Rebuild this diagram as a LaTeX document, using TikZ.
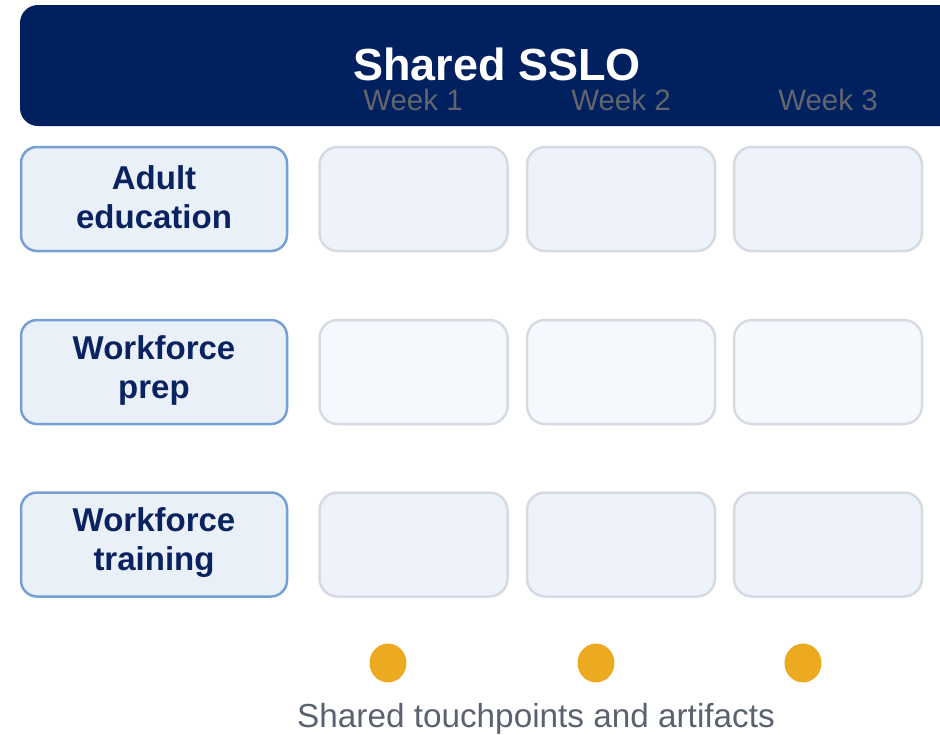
\documentclass[tikz,border=0pt]{standalone}
\usepackage{fontspec}
\setmainfont{Liberation Sans}
\definecolor{navy}{RGB}{0,32,96}
\definecolor{labeltext}{RGB}{10,34,96}
\definecolor{weekgray}{RGB}{98,102,108}
\definecolor{labelfill}{RGB}{233,240,248}
\definecolor{labelline}{RGB}{118,160,212}
\definecolor{cellfill}{RGB}{238,243,250}
\definecolor{cellfilllight}{RGB}{245,249,253}
\definecolor{cellline}{RGB}{214,219,227}
\definecolor{dotgold}{RGB}{235,170,32}
\definecolor{captiongray}{RGB}{90,98,112}
\tikzset{
  rowlabel/.style={draw=labelline, fill=labelfill, line width=2.5pt,
    rounded corners=16pt, minimum width=266pt, minimum height=104pt,
    align=center, text=labeltext, font=\fontsize{33}{39}\selectfont\bfseries,
    inner sep=0pt},
  cellbox/.style={draw=cellline, fill=cellfill, line width=2.5pt,
    rounded corners=18pt, minimum width=188pt, minimum height=104pt, inner sep=0pt},
  lightcell/.style={cellbox, fill=cellfilllight},
  weeklabel/.style={text=weekgray, font=\fontsize{29.5}{30}\selectfont, inner sep=0pt},
  touchdot/.style={circle, fill=dotgold, minimum size=37pt, inner sep=0pt, yscale=1.05},
}
\begin{document}
\begin{tikzpicture}[x=1pt,y=-1pt]
\useasboundingbox (0,0) rectangle (940,734);
% header band running off the right edge
\begin{scope}
  \clip (0,0) rectangle (940,734);
  \fill[navy, rounded corners=18pt] (20,5) rectangle (990,126);
\end{scope}
\node[text=white, font=\fontsize{45}{50}\selectfont\bfseries, inner sep=0pt] (title) at (497,64) {Shared SSLO};
\node[weeklabel] (w1) at (413,100) {Week 1};
\node[weeklabel] (w2) at (621,100) {Week 2};
\node[weeklabel] (w3) at (828,100) {Week 3};
% row labels (boxes first, text slightly raised inside)
\node[rowlabel] (r1) at (154,199) {};
\node[rowlabel] (r2) at (154,372) {};
\node[rowlabel] (r3) at (154,544.5) {};
\node[align=center, text=labeltext, font=\fontsize{33}{39}\selectfont\bfseries, inner sep=0pt] (t1) at ([yshift=2pt]r1.center) {Adult\\education};
\node[align=center, text=labeltext, font=\fontsize{33}{39}\selectfont\bfseries, inner sep=0pt] (t2) at ([yshift=2pt]r2.center) {Workforce\\prep};
\node[align=center, text=labeltext, font=\fontsize{33}{39}\selectfont\bfseries, inner sep=0pt] (t3) at ([yshift=2pt]r3.center) {Workforce\\training};
% week cells
\node[cellbox] (c11) at (413.5,199) {};
\node[cellbox] (c12) at (621,199) {};
\node[cellbox] (c13) at (828,199) {};
\node[lightcell] (c21) at (413.5,372) {};
\node[lightcell] (c22) at (621,372) {};
\node[lightcell] (c23) at (828,372) {};
\node[cellbox] (c31) at (413.5,544.5) {};
\node[cellbox] (c32) at (621,544.5) {};
\node[cellbox] (c33) at (828,544.5) {};
% touchpoints
\node[touchdot] (d1) at (388,663) {};
\node[touchdot] (d2) at (596,663) {};
\node[touchdot] (d3) at (803,663) {};
\node[text=captiongray, font=\fontsize{33.3}{36}\selectfont, inner sep=0pt] (caption) at (536,719) {Shared touchpoints and artifacts};
\end{tikzpicture}
\end{document}
